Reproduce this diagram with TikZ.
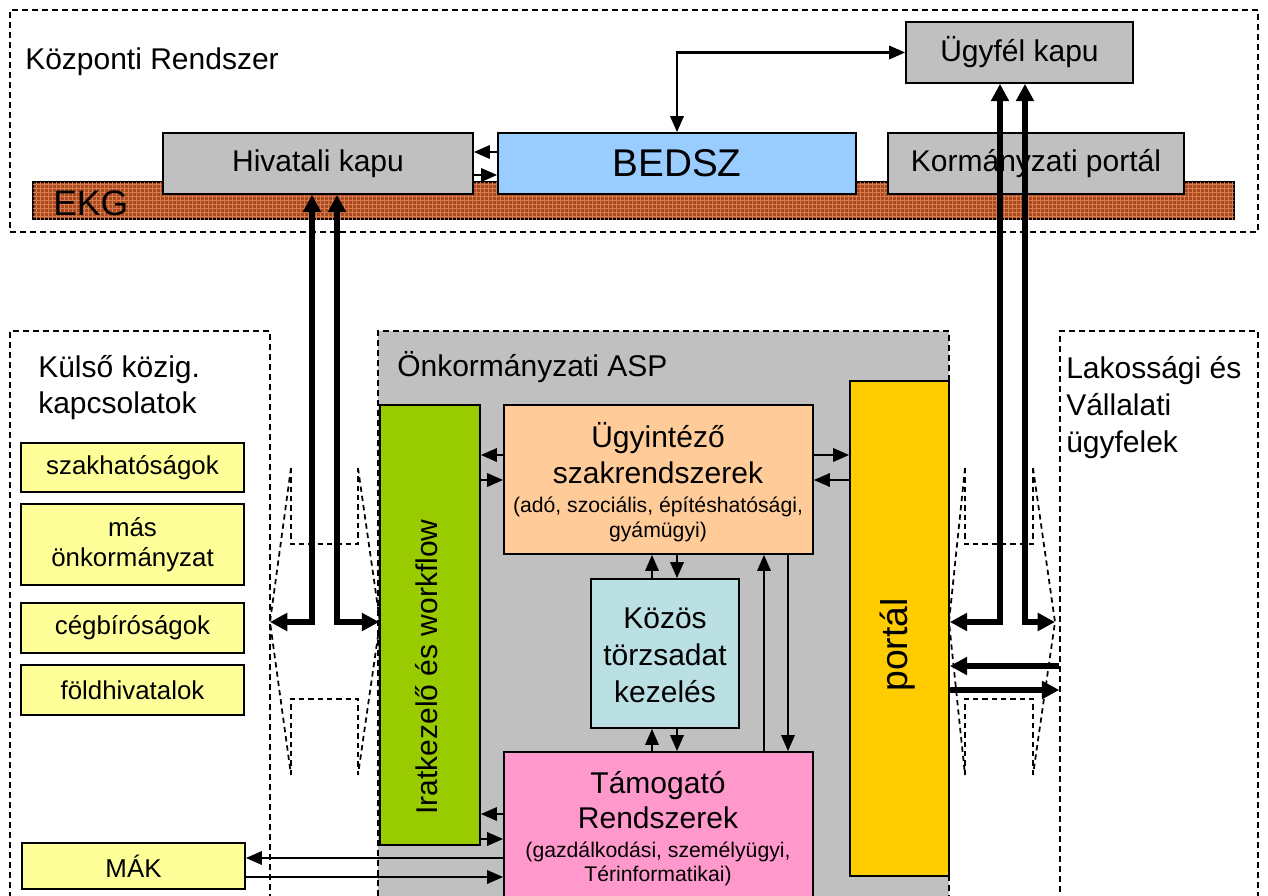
\documentclass[tikz,border=0pt]{standalone}
\usepackage{fontspec}
\setmainfont{Liberation Sans}
\usetikzlibrary{arrows.meta,fit,patterns}
\newcommand\fbig{\fontsize{22.5pt}{27pt}\selectfont}
\newcommand\fmid{\fontsize{19.4pt}{22.5pt}\selectfont}
\newcommand\fsml{\fontsize{15.9pt}{19pt}\selectfont}
\definecolor{grayb}{RGB}{192,192,192}
\definecolor{bedszc}{RGB}{153,204,255}
\definecolor{greenc}{RGB}{153,204,0}
\definecolor{peachc}{RGB}{255,204,153}
\definecolor{cyanc}{RGB}{187,224,227}
\definecolor{pinkc}{RGB}{255,153,204}
\definecolor{orangec}{RGB}{255,204,0}
\definecolor{yelc}{RGB}{255,255,153}
\definecolor{ekgc}{RGB}{170,72,30}
\definecolor{ekgd}{RGB}{214,124,78}
\begin{document}
\begin{tikzpicture}[x=0.75pt,y=-0.75pt,
  box/.style={draw=black, line width=1.3pt, inner sep=0pt},
  region/.style={draw=black, dash pattern=on 4.5pt off 3pt, line width=1.1pt, inner sep=0pt},
  txt/.style={inner sep=0pt},
  arr/.style={line width=1.7pt, -{Triangle[length=12pt,width=10pt]}},
  arrd/.style={line width=1.7pt, {Triangle[length=12pt,width=10pt]}-{Triangle[length=12pt,width=10pt]}},
  bigarr/.style={line width=5pt, -{Triangle[length=13pt,width=13pt]}},
  bigarrd/.style={line width=5pt, {Triangle[length=13pt,width=13pt]}-{Triangle[length=13pt,width=13pt]}},
  funnel/.style={dash pattern=on 4pt off 3pt, line width=1.3pt}]
\clip (0,0) rectangle (1268,896);
\fill[white] (0,0) rectangle (1268,896);

% regions
\node[region, fit={(10,10)(1258,232)}] (kozp) {};
\node[region, fit={(10,331)(270,930)}] (kulso) {};
\node[region, fill=grayb, fit={(378,331)(949,930)}] (asp) {};
\node[region, fit={(1060,331)(1258,930)}] (lak) {};

\node[txt, anchor=base west, font=\fbig] (kozpt) at (25,69) {Központi Rendszer};
\node[txt, anchor=base west, font=\fbig] (kulso1) at (38,377) {Külső közig.};
\node[txt, anchor=base west, font=\fbig] (kulso2) at (38,413) {kapcsolatok};
\node[txt, anchor=base west, font=\fbig] (aspt) at (397,376) {Önkormányzati ASP};
\node[txt, anchor=base west, font=\fbig] (lak1) at (1066,378) {Lakossági és};
\node[txt, anchor=base west, font=\fbig] (lak2) at (1066,415) {Vállalati};
\node[txt, anchor=base west, font=\fbig] (lak3) at (1066,452) {ügyfelek};

% EKG
\node[draw=black, line width=1.1pt, inner sep=0pt, fill=ekgc,
  postaction={pattern=grid, pattern color=ekgd}, fit={(33,182)(1234,219)}] (ekg) {};
\node[txt, anchor=base west, font=\fontsize{26.6pt}{30pt}\selectfont] (ekgt) at (53,215) {EKG};

% top boxes
\node[box, fill=grayb, fit={(163,133)(473,194)}] (hk) {};
\node[txt, font=\fbig] (hkt) at (hk.center) {Hivatali kapu};
\node[box, fill=bedszc, fit={(498,133)(856,194)}] (bedsz) {};
\node[txt, font=\fontsize{29pt}{33pt}\selectfont] (bedszt) at (bedsz.center) {BEDSZ};
\node[box, fill=grayb, fit={(888,133)(1184,194)}] (kp) {};
\node[txt, font=\fbig] (kpt) at (kp.center) {Kormányzati portál};
\node[box, fill=grayb, fit={(906,22)(1133,83)}] (uk) {};
\node[txt, font=\fbig] (ukt) at (uk.center) {Ügyfél kapu};

% ASP inner boxes
\node[box, fill=greenc, fit={(380,405)(480,845)}] (irat) {};
\node[txt, rotate=90, font=\fbig] (iratt) at (427,667) {Iratkezelő és workflow};
\node[box, fill=peachc, fit={(504,405)(813,554)}] (ugy) {};
\node[txt, anchor=base, font=\fbig] (ugy1) at (658,447) {Ügyintéző};
\node[txt, anchor=base, font=\fbig] (ugy2) at (658,483) {szakrendszerek};
\node[txt, anchor=base, font=\fsml] (ugy3) at (658,512) {(adó, szociális, építéshatósági,};
\node[txt, anchor=base, font=\fsml] (ugy4) at (658,537) {gyámügyi)};
\node[box, fill=cyanc, fit={(591,579)(739,728)}] (kozos) {};
\node[txt, anchor=base, font=\fbig] (koz1) at (665,628) {Közös};
\node[txt, anchor=base, font=\fbig] (koz2) at (665,665) {törzsadat};
\node[txt, anchor=base, font=\fbig] (koz3) at (665,702) {kezelés};
\node[box, fill=pinkc, fit={(504,752)(813,930)}] (tam) {};
\node[txt, anchor=base, font=\fbig] (tam1) at (658,793) {Támogató};
\node[txt, anchor=base, font=\fbig] (tam2) at (658,828) {Rendszerek};
\node[txt, anchor=base, font=\fsml] (tam3) at (658,857) {(gazdálkodási, személyügyi,};
\node[txt, anchor=base, font=\fsml] (tam4) at (658,881) {Térinformatikai)};
\node[box, fill=orangec, fit={(850,381)(949,876)}] (portal) {};
\node[txt, rotate=90, font=\fontsize{28pt}{32pt}\selectfont] (portalt) at (898,645) {portál};

% yellow boxes
\node[box, fill=yelc, fit={(21,443)(244,492)}] (szak) {};
\node[txt, font=\fmid] (szakt) at (szak.center) {szakhatóságok};
\node[box, fill=yelc, fit={(21,504)(244,585)}] (mas) {};
\node[txt, font=\fmid, align=center] (mast) at (mas.center) {más\\önkormányzat};
\node[box, fill=yelc, fit={(21,603)(244,653)}] (ceg) {};
\node[txt, font=\fmid] (cegt) at (ceg.center) {cégbíróságok};
\node[box, fill=yelc, fit={(21,665)(244,715)}] (fold) {};
\node[txt, font=\fmid] (foldt) at (fold.center) {földhivatalok};
\node[box, fill=yelc, fit={(22,843)(245,889)}] (mak) {};
\node[txt, font=\fmid] (makt) at (mak.center) {MÁK};

% funnels
\coordinate (ltip) at (270,622);
\coordinate (rtip) at (1055,622);
\draw[funnel] (291,468) -- (291,544) -- (358,544) -- (358,468);
\draw[funnel] (291,468) -- (ltip) -- (291,775);
\draw[funnel] (358,468) -- (380,622) -- (358,775);
\draw[funnel] (291,775) -- (291,699) -- (358,699) -- (358,775);
\draw[funnel] (965,468) -- (965,544) -- (1033,544) -- (1033,468);
\draw[funnel] (965,468) -- (949,622) -- (965,775);
\draw[funnel] (1033,468) -- (rtip) -- (1033,775);
\draw[funnel] (965,775) -- (965,699) -- (1033,699) -- (1033,775);

% top connectors
\draw[arr] (bedsz.west |- 0,152) -- (hk.east |- 0,152);
\draw[arr] (hk.east |- 0,175) -- (bedsz.west |- 0,175);
\draw[arrd] (bedsz.north -| 677,0) |- (uk.west);

% thick connectors
\draw[bigarrd] (hk.south -| 312,0) |- (ltip);
\draw[bigarrd] (hk.south -| 337,0) |- (irat.west |- 0,622);
\draw[bigarrd] (uk.south -| 1000,0) |- (portal.east |- 0,622);
\draw[bigarrd] (uk.south -| 1025,0) |- (rtip);
\draw[bigarr] (lak.west |- 0,666) -- (portal.east |- 0,666);
\draw[bigarr] (portal.east |- 0,690) -- (lak.west |- 0,690);

% inner connectors
\draw[arr] (ugy.west |- 0,455) -- (irat.east |- 0,455);
\draw[arr] (irat.east |- 0,480) -- (ugy.west |- 0,480);
\draw[arr] (ugy.east |- 0,455) -- (portal.west |- 0,455);
\draw[arr] (portal.west |- 0,480) -- (ugy.east |- 0,480);
\draw[arr] (kozos.north -| 652,0) -- (ugy.south -| 652,0);
\draw[arr] (ugy.south -| 677,0) -- (kozos.north -| 677,0);
\draw[arr] (tam.north -| 652,0) -- (kozos.south -| 652,0);
\draw[arr] (kozos.south -| 677,0) -- (tam.north -| 677,0);
\draw[arr] (tam.north -| 764,0) -- (ugy.south -| 764,0);
\draw[arr] (ugy.south -| 788,0) -- (tam.north -| 788,0);
\draw[arr] (tam.west |- 0,814) -- (irat.east |- 0,814);
\draw[arr] (irat.east |- 0,839) -- (tam.west |- 0,839);
\draw[arr] (tam.west |- 0,858) -- (mak.east |- 0,858);
\draw[arr] (mak.east |- 0,877) -- (tam.west |- 0,877);
\end{tikzpicture}
\end{document}
